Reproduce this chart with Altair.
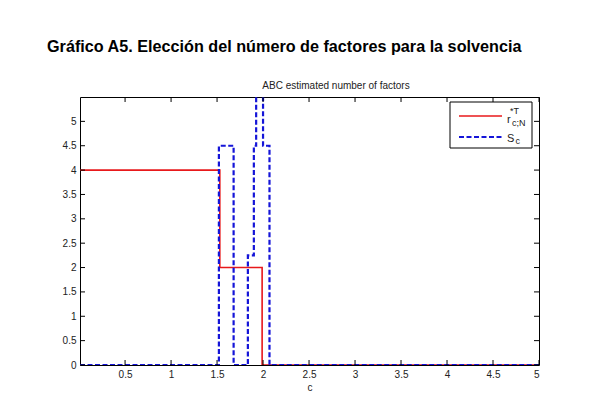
import altair as alt
import pandas as pd

# Data
red_c = [0.01, 1.53, 1.99, 5.0]
red_v = [4.0, 2.0, 0.0, 0.0]
blue_c = [0.01, 1.52, 1.68, 1.835, 1.90, 1.925, 2.0, 2.07, 5.0]
blue_v = [0.0, 4.5, 0.0, 2.25, 4.5, 6.0, 4.5, 0.0, 0.0]
x_ticks = [0.5, 1, 1.5, 2, 2.5, 3, 3.5, 4, 4.5, 5]
y_ticks = [0, 0.5, 1, 1.5, 2, 2.5, 3, 3.5, 4, 4.5, 5]

LEFT, TOP = 80, 97
W, H = 459, 268
FONT = "Liberation Sans"

red_df = pd.DataFrame({"c": red_c, "v": red_v})
blue_df = pd.DataFrame({"c": blue_c, "v": blue_v})
xt_df = pd.DataFrame({"c": x_ticks})
yt_df = pd.DataFrame({"v": y_ticks})

xs = alt.Scale(domain=[0.01, 5], nice=False, zero=False)
ys = alt.Scale(domain=[0, 5.5], nice=False)

x_axis = alt.Axis(values=x_ticks, tickSize=0, domain=False, grid=False,
                  labelFontSize=10, labelFont=FONT, labelColor="#222",
                  labelPadding=4, labelOverlap=False,
                  title="c", titleFont=FONT, titleFontSize=10,
                  titleFontWeight="normal", titlePadding=3, titleColor="#222",
                  format="~g")
y_axis = alt.Axis(values=y_ticks, tickSize=0, domain=False, grid=False,
                  labelFontSize=10, labelFont=FONT, labelColor="#222",
                  labelPadding=4, labelOverlap=False, title=None, format="~g")

X = alt.X("c:Q", scale=xs, axis=x_axis)
Y = alt.Y("v:Q", scale=ys, axis=y_axis)

red = alt.Chart(red_df).mark_line(color="#e8191b", strokeWidth=1.6,
                                  interpolate="step-after", clip=True).encode(
    x=X, y=Y)
blue = alt.Chart(blue_df).mark_line(color="#1515d8", strokeWidth=2.2,
                                    strokeDash=[5, 2.5],
                                    interpolate="step-after", clip=True).encode(
    x=X, y=Y)

tick_col = "#000"
xb = alt.Chart(xt_df).mark_rule(color=tick_col, strokeWidth=1).encode(
    x=X, y=alt.value(H), y2=alt.value(H - 5))
xt = alt.Chart(xt_df).mark_rule(color=tick_col, strokeWidth=1).encode(
    x=X, y=alt.value(0), y2=alt.value(5))
yl = alt.Chart(yt_df).mark_rule(color=tick_col, strokeWidth=1).encode(
    y=Y, x=alt.value(0), x2=alt.value(5))
yr = alt.Chart(yt_df).mark_rule(color=tick_col, strokeWidth=1).encode(
    y=Y, x=alt.value(W), x2=alt.value(W - 5))

# Legend box
lx0, ly0 = 450 - LEFT, 102 - TOP
lx1, ly1 = 532 - LEFT, 148 - TOP
legend_box = alt.Chart(pd.DataFrame({"a": [0]})).mark_rect(
    fill="white", stroke="black", strokeWidth=1).encode(
    x=alt.value(lx0), x2=alt.value(lx1), y=alt.value(ly0), y2=alt.value(ly1))
leg_red = alt.Chart(pd.DataFrame({"a": [0]})).mark_rule(
    color="#e8191b", strokeWidth=1.6).encode(
    x=alt.value(459 - LEFT), x2=alt.value(502 - LEFT), y=alt.value(116 - TOP))
leg_blue = alt.Chart(pd.DataFrame({"a": [0]})).mark_rule(
    color="#1515d8", strokeWidth=2.2, strokeDash=[5, 2.5]).encode(
    x=alt.value(459 - LEFT), x2=alt.value(502 - LEFT), y=alt.value(137 - TOP))


def txt(s, x, y, size, weight="normal", align="left", color="#222"):
    return alt.Chart(pd.DataFrame({"s": [s]})).mark_text(
        text=s, font=FONT, fontSize=size, fontWeight=weight, align=align,
        baseline="alphabetic", color=color).encode(
        x=alt.value(x - LEFT), y=alt.value(y - TOP))


texts = [
    txt("r", 507, 123, 11),
    txt("*T", 510, 114, 9),
    txt("c;N", 512, 126, 9),
    txt("S", 507, 142, 11),
    txt("c", 515.5, 144, 9),
    txt("ABC estimated number of factors", 336, 89, 10, align="center"),
    txt("Gráfico A5. Elección del número de factores para la solvencia",
        47, 52, 16.2, weight="bold", color="#000"),
]

chart = alt.layer(red, blue, xb, xt, yl, yr, legend_box, leg_red, leg_blue,
                  *texts).properties(
    width=W, height=H,
    padding={"left": LEFT - 8, "top": TOP - 8, "right": 47, "bottom": 38},
    autosize=alt.AutoSizeParams(type="none"),
    background="white",
).configure_view(stroke="black", strokeWidth=1)

chart.save("out.html", embed_options={"renderer": "svg", "actions": False})
